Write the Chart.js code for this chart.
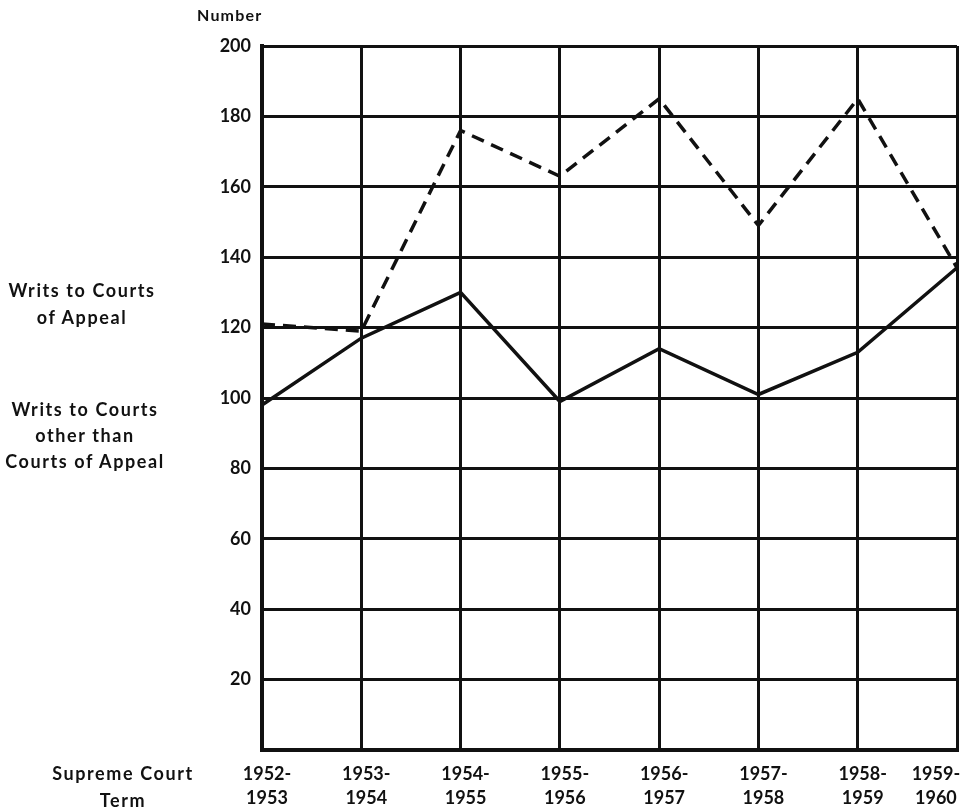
<!DOCTYPE html>
<html>
<head>
<meta charset="utf-8">
<script src="https://cdn.jsdelivr.net/npm/chart.js@4.4.0/dist/chart.umd.min.js"></script>
<style>
    body { margin: 0; background: #fff; }
    #wrap { position: relative; width: 969px; height: 812px; }
    .side { position: absolute; font-family: Lato, "DejaVu Sans", sans-serif; font-weight: bold; font-size: 18px; letter-spacing: 1.6px; color: #111; text-align: center; }
</style>
</head>
<body>
<div id="wrap">
    <canvas id="courtChart" width="969" height="812"></canvas>
    <div class="side" style="left:197px; top:5px; font-size:16px; letter-spacing:1.2px; text-align:left;">Number</div>
    <div class="side" style="left:0; width:164px; top:277px; line-height:27px;">Writs to Courts<br>of Appeal</div>
    <div class="side" style="left:0; width:170px; top:396px; line-height:26px;">Writs to Courts<br>other than<br>Courts of Appeal</div>
    <div class="side" style="left:38px; width:170px; top:760px; line-height:27px;">Supreme Court<br>Term</div>
</div>
<script>
// Supreme Court terms (x axis)
const termStart = ['1952-', '1953-', '1954-', '1955-', '1956-', '1957-', '1958-', '1959-'];
const termEnd = ['1953', '1954', '1955', '1956', '1957', '1958', '1959', '1960'];

// Writs to Courts of Appeal (dashed)
const appealWrits = [121, 119, 176, 163, 185, 149, 185, 137];
// Writs to Courts other than Courts of Appeal (solid)
const otherWrits = [98, 117, 130, 99, 114, 101, 113, 137];

const yTicks = [0, 20, 40, 60, 80, 100, 120, 140, 160, 180, 200];

const termLabels = termStart.map((s, i) => [s, termEnd[i]]);
const tickFont = { family: 'Lato, "DejaVu Sans", sans-serif', size: 18, weight: 'bold', lineHeight: 1.35 };

const ctx = document.getElementById('courtChart').getContext('2d');
new Chart(ctx, {
    type: 'line',
    data: {
        labels: termLabels,
        datasets: [{
            label: 'Writs to Courts of Appeal',
            data: appealWrits,
            borderColor: '#111',
            borderWidth: 3.5,
            borderDash: [13, 8],
            pointRadius: 0,
            tension: 0,
            fill: false
        }, {
            label: 'Writs to Courts other than Courts of Appeal',
            data: otherWrits,
            borderColor: '#111',
            borderWidth: 3.5,
            pointRadius: 0,
            tension: 0,
            fill: false
        }]
    },
    options: {
        responsive: false,
        animation: false,
        layout: { padding: { top: 46, right: 12, bottom: 0, left: 0 } },
        plugins: {
            legend: { display: false },
            tooltip: { enabled: false }
        },
        scales: {
            x: {
                offset: false,
                grid: { color: '#111', lineWidth: 3, drawTicks: false },
                border: { color: '#111', width: 4 },
                ticks: {
                    color: '#111',
                    font: tickFont,
                    padding: 12,
                    maxRotation: 0,
                    autoSkip: false,
                    labelOffset: 5,
                    callback: function (value, index) {
                        // nudge the last label left so it stays inside the page
                        if (index === termLabels.length - 1) {
                            return termLabels[index].map(t => t + '\u2007\u2007\u2007\u2007\u2007');
                        }
                        return termLabels[index];
                    }
                },
                afterFit: function (scale) {
                    scale.height = 62;
                    scale.paddingLeft = 0;
                    scale.paddingRight = 0;
                }
            },
            y: {
                min: 0,
                max: 200,
                afterBuildTicks: function (scale) {
                    scale.ticks = yTicks.map(v => ({ value: v }));
                },
                grid: { color: '#111', lineWidth: 3, drawTicks: false },
                border: { color: '#111', width: 4 },
                ticks: {
                    color: '#111',
                    font: tickFont,
                    padding: 11,
                    callback: v => (v === 0 ? '' : v)
                },
                afterFit: function (scale) {
                    scale.width = 262;
                }
            }
        }
    }
});
</script>
</body>
</html>
